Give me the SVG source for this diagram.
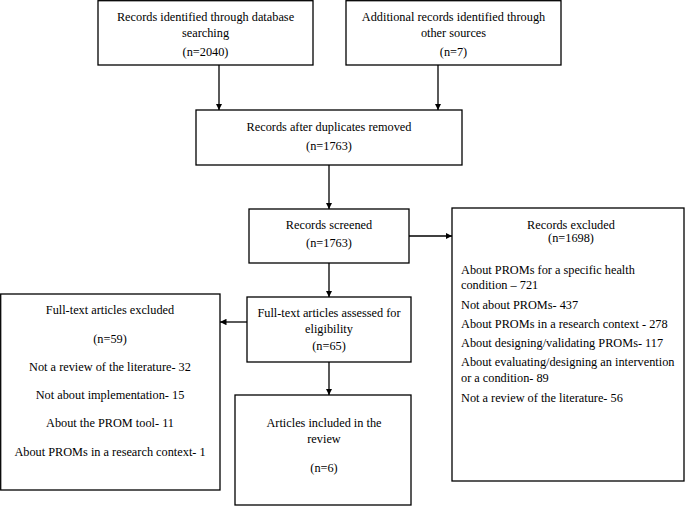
<svg xmlns="http://www.w3.org/2000/svg" width="685" height="506" viewBox="0 0 685 506">
<style>
rect{fill:#fff;stroke:#000;stroke-width:1.3}
text{font-family:"Liberation Serif","Times New Roman",serif;font-size:12.3px;fill:#000}
.c{text-anchor:middle}
.conn line{stroke:#000;stroke-width:1.3;marker-end:url(#ah)}
</style>
<defs>
<marker id="ah" viewBox="0 0 10 10" refX="10" refY="5" markerWidth="6.5" markerHeight="6.5" markerUnits="userSpaceOnUse" orient="auto">
<path d="M0,0 L10,5 L0,10 Z" fill="#000"/>
</marker>
</defs>
<rect x="0" y="0" width="685" height="506" style="stroke:none"/>
<g class="conn">
<line x1="219" y1="65" x2="219" y2="110"/>
<line x1="438" y1="65" x2="438" y2="110"/>
<line x1="329" y1="165" x2="329" y2="209"/>
<line x1="409" y1="236" x2="452" y2="236"/>
<line x1="329" y1="263" x2="329" y2="297"/>
<line x1="247" y1="322" x2="220" y2="322"/>
<line x1="329" y1="362" x2="329" y2="395"/>
</g>
<g id="db">
<rect x="98" y="0.7" width="215" height="64.3"/>
<text class="c" x="205.5" y="21">Records identified through database</text>
<text class="c" x="205.5" y="37">searching</text>
<text class="c" x="205.5" y="56">(n=2040)</text>
</g>
<g id="other">
<rect x="346" y="0.7" width="215" height="64.3"/>
<text class="c" x="453.5" y="21">Additional records identified through</text>
<text class="c" x="453.5" y="37">other sources</text>
<text class="c" x="453.5" y="56">(n=7)</text>
</g>
<g id="dup">
<rect x="196" y="110" width="266" height="55"/>
<text class="c" x="329" y="131">Records after duplicates removed</text>
<text class="c" x="329" y="150">(n=1763)</text>
</g>
<g id="screened">
<rect x="249" y="209" width="160" height="54"/>
<text class="c" x="329" y="229">Records screened</text>
<text class="c" x="329" y="247">(n=1763)</text>
</g>
<g id="excluded">
<rect x="452" y="208" width="232" height="273"/>
<text class="c" x="571" y="229">Records excluded</text>
<text class="c" x="571" y="242">(n=1698)</text>
<text x="461" y="274">About PROMs for a specific health</text>
<text x="461" y="289">condition – 721</text>
<text x="461" y="309">Not about PROMs- 437</text>
<text x="461" y="328">About PROMs in a research context - 278</text>
<text x="461" y="347">About designing/validating PROMs- 117</text>
<text x="461" y="366">About evaluating/designing an intervention</text>
<text x="461" y="382">or a condition- 89</text>
<text x="461" y="402">Not a review of the literature- 56</text>
</g>
<g id="assessed">
<rect x="247" y="297" width="164" height="65"/>
<text class="c" x="329" y="317">Full-text articles assessed for</text>
<text class="c" x="329" y="333">eligibility</text>
<text class="c" x="329" y="350">(n=65)</text>
</g>
<g id="ftexcluded">
<rect x="0.7" y="294" width="219.3" height="196"/>
<text class="c" x="110" y="314">Full-text articles excluded</text>
<text class="c" x="110" y="343">(n=59)</text>
<text class="c" x="110" y="371">Not a review of the literature- 32</text>
<text class="c" x="110" y="399">Not about implementation- 15</text>
<text class="c" x="110" y="427">About the PROM tool- 11</text>
<text class="c" x="110" y="456">About PROMs in a research context- 1</text>
</g>
<g id="included">
<rect x="235" y="395" width="176" height="110"/>
<text class="c" x="324" y="427">Articles included in the</text>
<text class="c" x="324" y="443">review</text>
<text class="c" x="324" y="472">(n=6)</text>
</g>
</svg>
